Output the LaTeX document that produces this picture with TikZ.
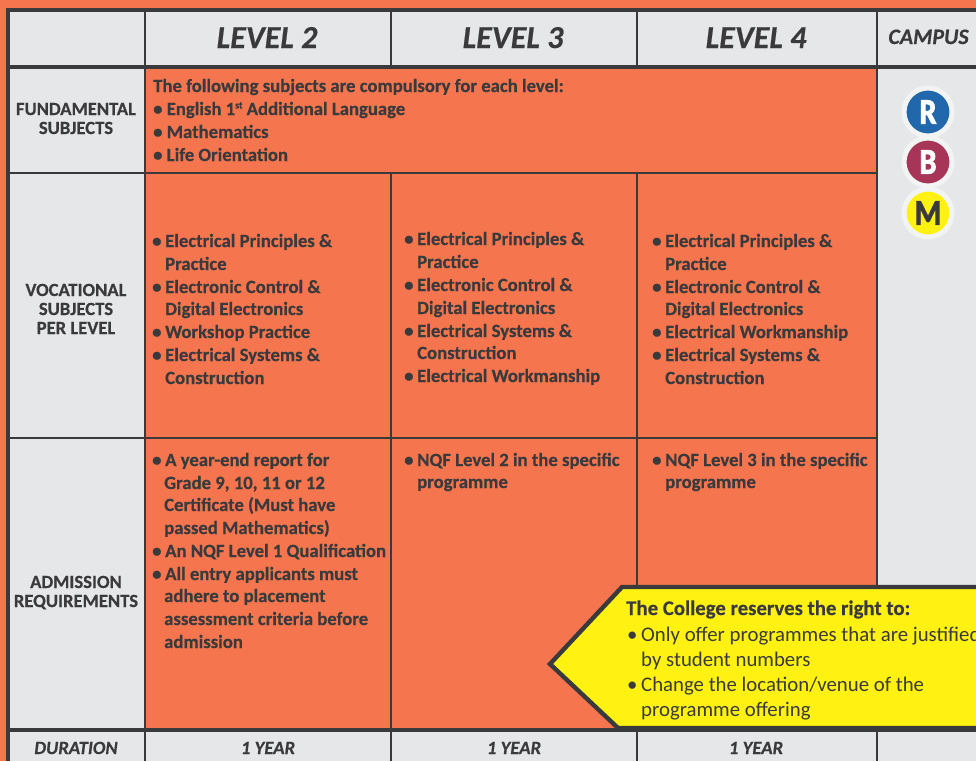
\documentclass[tikz,border=0pt]{standalone}
\usepackage{fontspec}
\setmainfont{Carlito}[BoldFeatures={FakeBold=0.4},BoldItalicFeatures={FakeBold=0.4}]
\newfontfamily\heavyfont[BoldFont={Carlito Bold},BoldFeatures={FakeBold=2.5}]{Carlito}
\definecolor{bgorange}{HTML}{F4754E}
\definecolor{cellgrey}{HTML}{E6E7E8}
\definecolor{ink}{HTML}{3A3A3C}
\definecolor{ring}{HTML}{F2F3F3}
\definecolor{callout}{HTML}{FFF212}
\definecolor{campR}{HTML}{2167AC}
\definecolor{campB}{HTML}{A63558}
\tikzset{
  gridline/.style={draw=ink,line width=2.5pt},
  gridthick/.style={draw=ink,line width=3.6pt},
  bt/.style={anchor=base west,inner sep=0pt,text=ink,font=\fontsize{18.7}{20}\selectfont\bfseries},
  lab/.style={anchor=base,inner sep=0pt,text=ink,font=\fontsize{18.6}{20}\selectfont\bfseries},
  levelhead/.style={anchor=base,inner sep=0pt,text=ink,font=\fontsize{32}{36}\selectfont\bfseries\itshape},
  campushead/.style={anchor=base,inner sep=0pt,text=ink,font=\fontsize{22}{24}\selectfont\bfseries\itshape},
  dur/.style={anchor=base,inner sep=0pt,text=ink,font=\fontsize{18.7}{20}\selectfont\bfseries\itshape},
  note/.style={anchor=base west,inner sep=0pt,text=ink,font=\fontsize{20.8}{22}\selectfont},
  badge/.style={circle,draw=ring,line width=5pt,minimum size=48pt,inner sep=0pt,font=\heavyfont\fontsize{36}{36}\selectfont\bfseries},
}
\newcommand{\bul}{\textbullet}
\newcommand{\narrowletter}[1]{\scalebox{0.84}[1]{#1}}
\begin{document}
\begin{tikzpicture}[x=1pt,y=-1pt]
\useasboundingbox (0,0) rectangle (976,761);
\fill[bgorange] (0,0) rectangle (976,761);
% grey areas
\fill[cellgrey] (8,10) rectangle (976,67);
\fill[cellgrey] (8,67) rectangle (145,761);
\fill[cellgrey] (877,67) rectangle (976,761);
\fill[cellgrey] (145,730) rectangle (976,761);
% grid
\draw[gridline] (145,10) -- (145,761);
\draw[gridline] (391,10) -- (391,67);
\draw[gridline] (637,10) -- (637,67);
\draw[gridline] (391,173) -- (391,761);
\draw[gridline] (637,173) -- (637,761);
\draw[gridline] (877,10) -- (877,761);
\draw[gridline] (8,173) -- (877,173);
\draw[gridline] (8,438) -- (877,438);
\draw[gridthick] (8,730) -- (976,730);
\draw[gridthick] (8,67) -- (976,67);
\draw[gridthick] (8,10) -- (976,10);
\draw[gridthick] (8,8.2) -- (8,761);
% header
\node[levelhead] (h2) at (267,48) {LEVEL 2};
\node[levelhead] (h3) at (513,48) {LEVEL 3};
\node[levelhead] (h4) at (756,48) {LEVEL 4};
\node[campushead] (hc) at (928.5,44) {CAMPUS};
% row labels
\node[lab] (f1) at (76,115) {FUNDAMENTAL};
\node[lab] (f2) at (76,134) {SUBJECTS};
\node[lab] (v1) at (76,296) {VOCATIONAL};
\node[lab] (v2) at (76,315) {SUBJECTS};
\node[lab] (v3) at (76,334) {PER LEVEL};
\node[lab] (a1) at (76,588) {ADMISSION};
\node[lab] (a2) at (76,607) {REQUIREMENTS};
\node[dur] (d0) at (76,754) {DURATION};
\node[dur] (d2) at (268,754) {1 YEAR};
\node[dur] (d3) at (514,754) {1 YEAR};
\node[dur] (d4) at (756,754) {1 YEAR};
% fundamental
\node[bt] (c0) at (153,92) {The following subjects are compulsory for each level:};
\node[bt] (c1) at (153,115) {\bul\ English 1\raisebox{6.5pt}{\fontsize{10}{10}\selectfont st} Additional Language};
\node[bt] (c2) at (153,138) {\bul\ Mathematics};
\node[bt] (c3) at (153,161) {\bul\ Life Orientation};
% vocational level 2
\node[bt] (p1) at (152,247) {\bul};
\node[bt] (p2) at (165,247) {Electrical Principles \&};
\node[bt] (p3) at (165,270) {Practice};
\node[bt] (p4) at (152,293) {\bul};
\node[bt] (p5) at (165,293) {Electronic Control \&};
\node[bt] (p6) at (165,315) {Digital Electronics};
\node[bt] (p7) at (152,338) {\bul};
\node[bt] (p8) at (165,338) {Workshop Practice};
\node[bt] (p9) at (152,361) {\bul};
\node[bt] (p10) at (165,361) {Electrical Systems \&};
\node[bt] (p11) at (165,384) {Construction};
% vocational level 3
\node[bt] (q1) at (404,245) {\bul};
\node[bt] (q2) at (417,245) {Electrical Principles \&};
\node[bt] (q3) at (417,268) {Practice};
\node[bt] (q4) at (404,291) {\bul};
\node[bt] (q5) at (417,291) {Electronic Control \&};
\node[bt] (q6) at (417,314) {Digital Electronics};
\node[bt] (q7) at (404,337) {\bul};
\node[bt] (q8) at (417,337) {Electrical Systems \&};
\node[bt] (q9) at (417,359) {Construction};
\node[bt] (q10) at (404,382) {\bul};
\node[bt] (q11) at (417,382) {Electrical Workmanship};
% vocational level 4
\node[bt] (r1) at (652,247) {\bul};
\node[bt] (r2) at (665,247) {Electrical Principles \&};
\node[bt] (r3) at (665,270) {Practice};
\node[bt] (r4) at (652,293) {\bul};
\node[bt] (r5) at (665,293) {Electronic Control \&};
\node[bt] (r6) at (665,315) {Digital Electronics};
\node[bt] (r7) at (652,338) {\bul};
\node[bt] (r8) at (665,338) {Electrical Workmanship};
\node[bt] (r9) at (652,361) {\bul};
\node[bt] (r10) at (665,361) {Electrical Systems \&};
\node[bt] (r11) at (665,384) {Construction};
% admission level 2
\node[bt] (s1) at (152,466) {\bul};
\node[bt] (s2) at (165,466) {A year-end report for};
\node[bt] (s3) at (164,489) {Grade 9, 10, 11 or 12};
\node[bt] (s4) at (164,511) {Certificate (Must have};
\node[bt] (s5) at (164,534) {passed Mathematics)};
\node[bt] (s6) at (152,557) {\bul};
\node[bt] (s7) at (165,557) {An NQF Level 1 Qualification};
\node[bt] (s8) at (152,580) {\bul};
\node[bt] (s9) at (165,580) {All entry applicants must};
\node[bt] (s10) at (164,602) {adhere to placement};
\node[bt] (s11) at (164,625) {assessment criteria before};
\node[bt] (s12) at (164,648) {admission};
% admission level 3
\node[bt] (t1) at (404,466) {\bul};
\node[bt] (t2) at (417,466) {NQF Level 2 in the specific};
\node[bt] (t3) at (417,488) {programme};
% admission level 4
\node[bt] (u1) at (652,466) {\bul};
\node[bt] (u2) at (665,466) {NQF Level 3 in the specific};
\node[bt] (u3) at (665,488) {programme};
% callout
\draw[fill=callout,draw=ink,line width=4.4pt,miter limit=10]
  (990,587) -- (622,587) -- (550,664) -- (618,728) -- (990,728) -- cycle;
\node[note,font=\fontsize{20.8}{22}\selectfont\bfseries] (n0) at (626,615) {The College reserves the right to:};
\node[note] (n1) at (627,641) {\bul};
\node[note] (n2) at (641,641) {Only offer programmes that are justified};
\node[note] (n3) at (641,666) {by student numbers};
\node[note] (n4) at (627,691) {\bul};
\node[note] (n5) at (641,691) {Change the location/venue of the};
\node[note] (n6) at (641,716) {programme offering};
% campus badges
\node[badge,fill=campR,text=white] (br) at (928,112) {\narrowletter{R}};
\node[badge,fill=campB,text=white] (bb) at (928,162) {\narrowletter{B}};
\node[badge,fill=callout,text=ink] (bm) at (928,213) {\narrowletter{M}};
\end{tikzpicture}
\end{document}
